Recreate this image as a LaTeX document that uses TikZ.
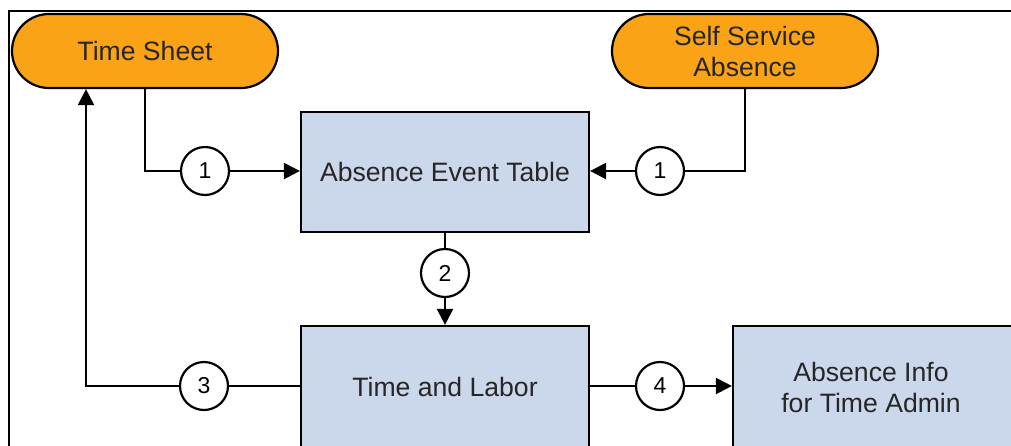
\documentclass[tikz,border=0pt]{standalone}
\usepackage{fontspec}
\setmainfont{Liberation Sans}
\usetikzlibrary{arrows.meta,shapes.misc}

\definecolor{srcorange}{RGB}{250,163,22}
\definecolor{tblblue}{RGB}{203,216,235}

\begin{document}
\begin{tikzpicture}[x=0.5pt,y=-0.5pt,line width=1.1pt,>={Triangle[length=8pt,width=8pt]},
  font=\fontsize{13.3}{15.5}\selectfont,
  src/.style={draw,fill=srcorange,rounded rectangle,minimum width=133pt,minimum height=37pt,
    align=center,text=black!85,inner sep=0pt},
  tbl/.style={draw,fill=tblblue,minimum width=144pt,minimum height=60pt,align=center,
    text=black!85,inner sep=0pt},
  num/.style={draw,circle,fill=white,minimum size=24pt,inner sep=0pt,
    font=\fontsize{11.5}{12}\selectfont}]
\useasboundingbox (0,0) rectangle (1011,445);
% frame round the figure
\draw (9,460) -- (9,11) -- (1030,11);
% sources of absences
\node[src] (ts) at (145,51) {Time Sheet};
\node[src] (ssa) at (745,51) {Self Service\\Absence};
% tables
\node[tbl] (aet) at (445,172) {Absence Event Table};
\node[tbl,minimum height=61pt] (tl) at (445,387) {Time and Labor};
\node[tbl,minimum height=61pt,minimum width=150pt] (ai) at (883,387) {\hspace*{-12pt}Absence Info\\\hspace*{-12pt}for Time Admin};
% numbered steps
\node[num] (s1a) at (205,171) {1};
\node[num] (s1b) at (660,171) {1};
\node[num] (s2) at (445,273) {2};
\node[num] (s3) at (204,386) {3};
\node[num] (s4) at (660,386) {4};
\coordinate (back) at (86,386);
% flows
\draw (ts.south) |- (s1a.west);
\draw[->] (s1a) -- (aet.west |- s1a);
\draw (ssa.south) |- (s1b.east);
\draw[->] (s1b) -- (aet.east |- s1b);
\draw (aet.south) -- (s2);
\draw[->] (s2) -- (tl.north);
\draw (tl.west |- s3) -- (s3);
\draw[->] (s3) -- (back) -- (back |- ts.south);
\draw (tl.east |- s4) -- (s4);
\draw[->] (s4) -- (ai.west |- s4);
\end{tikzpicture}
\end{document}
